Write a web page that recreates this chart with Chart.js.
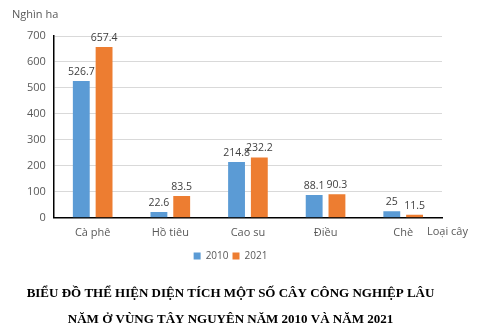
<!DOCTYPE html>
<html>
<head>
<meta charset="utf-8">
<script src="https://cdn.jsdelivr.net/npm/chart.js@4"></script>
<style>
  html, body { margin: 0; padding: 0; background: #fff; }
  #wrap { width: 485px; height: 333px; position: relative; }
</style>
</head>
<body>
<div id="wrap"><canvas id="chart"></canvas></div>
<script>
const categories = ['Cà phê', 'Hồ tiêu', 'Cao su', 'Điều', 'Chè'];
const values2010 = [526.7, 22.6, 214.8, 88.1, 25];
const values2021 = [657.4, 83.5, 232.2, 90.3, 11.5];
const seriesNames = ['2010', '2021'];
const titleLines = [
    'BIỂU ĐỒ THỂ HIỆN DIỆN TÍCH MỘT SỐ CÂY CÔNG NGHIỆP LÂU',
    'NĂM Ở VÙNG TÂY NGUYÊN NĂM 2010 VÀ NĂM 2021'
];

const sans = '"Open Sans", "Noto Sans", sans-serif';

// value labels above bars + axis captions
const extras = {
    id: 'extras',
    afterDatasetsDraw(chart) {
        const ctx = chart.ctx;
        ctx.save();
        ctx.font = '10.5px ' + sans;
        ctx.fillStyle = '#404040';
        ctx.textAlign = 'center';
        ctx.textBaseline = 'bottom';
        chart.data.datasets.forEach((ds, i) => {
            chart.getDatasetMeta(i).data.forEach((bar, j) => {
                ctx.fillText(String(ds.data[j]), bar.x, bar.y - 4);
            });
        });
        const x = chart.scales.x;
        ctx.font = '11px ' + sans;
        ctx.fillStyle = '#595959';
        ctx.textAlign = 'left';
        ctx.textBaseline = 'middle';
        ctx.fillText('Nghìn ha', 12, 15);
        ctx.fillText('Loại cây', x.right - 15, x.top + 14);
        ctx.restore();
    }
};

new Chart(document.getElementById('chart'), {
    type: 'bar',
    data: {
        labels: categories,
        datasets: [
            { label: seriesNames[0], data: values2010, backgroundColor: '#5B9BD5' },
            { label: seriesNames[1], data: values2021, backgroundColor: '#ED7D31' }
        ]
    },
    options: {
        responsive: true,
        maintainAspectRatio: false,
        animation: false,
        categoryPercentage: 0.587,
        barPercentage: 0.74,
        layout: { padding: { top: 36, left: 19, right: 43, bottom: 0 } },
        scales: {
            x: {
                grid: { display: false, drawTicks: false },
                border: { color: '#000', width: 1.5 },
                ticks: { color: '#595959', font: { family: sans, size: 11 }, padding: 8 }
            },
            y: {
                min: 0, max: 700,
                ticks: { stepSize: 100, color: '#595959', font: { family: sans, size: 11 }, padding: 8 },
                grid: { color: '#d9d9d9', drawTicks: false },
                border: { color: '#000', width: 1.5 }
            }
        },
        plugins: {
            legend: {
                position: 'bottom',
                labels: { boxWidth: 7, boxHeight: 7, color: '#595959', font: { size: 10, family: sans }, padding: 4 }
            },
            title: {
                display: true,
                position: 'bottom',
                text: titleLines,
                color: '#000',
                font: { family: '"Liberation Serif", "Times New Roman", serif', size: 13, weight: 'bold', lineHeight: 2 },
                padding: { top: 10, bottom: 0 }
            },
            tooltip: { enabled: false }
        }
    },
    plugins: [extras]
});
</script>
</body>
</html>
